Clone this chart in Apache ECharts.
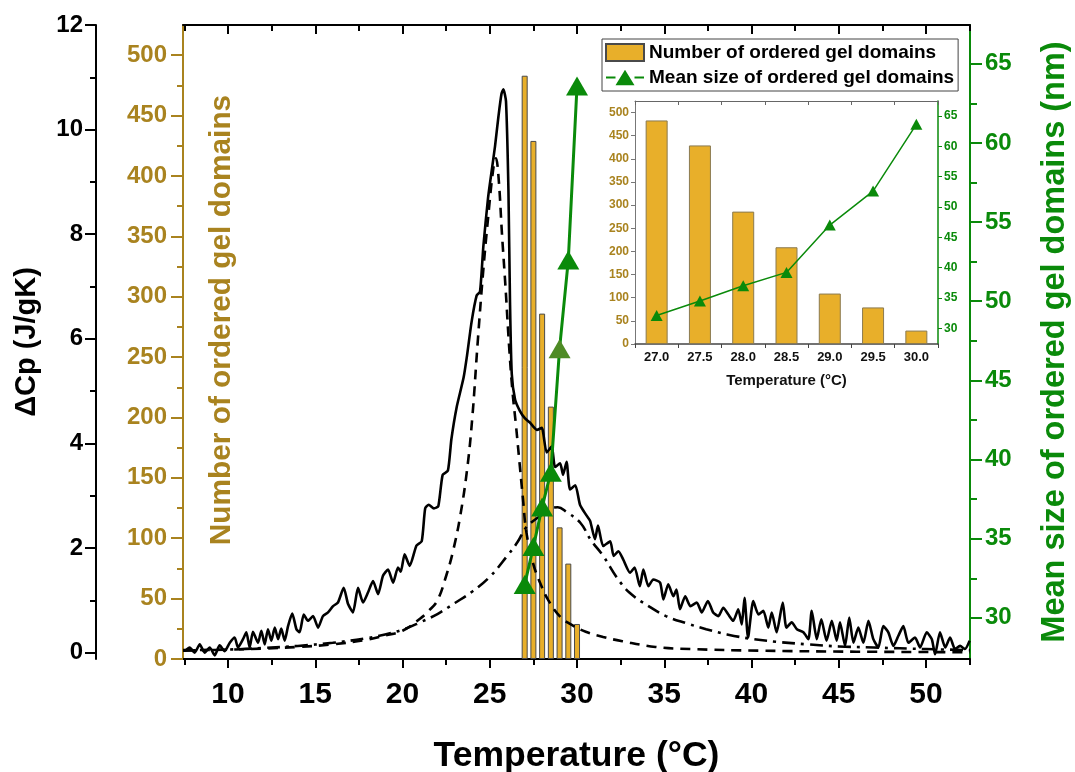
<!DOCTYPE html>
<html><head><meta charset="utf-8">
<script src="https://cdn.jsdelivr.net/npm/echarts@6.0.0/dist/echarts.min.js"></script>
<style>html,body{margin:0;padding:0;background:#fff}#c{width:1075px;height:772px}</style>
</head><body><div id="c"></div>
<script>
// ---- data ----
const temps = [27.0, 27.5, 28.0, 28.5, 29.0, 29.5, 30.0];
const tempLabels = ['27.0', '27.5', '28.0', '28.5', '29.0', '29.5', '30.0'];
const domainCount = [483, 429, 286, 209, 109, 79, 29];
const domainSize = [32.1, 34.5, 37.0, 39.2, 47.0, 52.6, 63.6];

const dscT = [7.52,7.8,8.09,8.38,8.66,8.95,9.24,9.52,9.81,10.1,10.38,10.57,10.86,11.05,11.24,11.43,11.72,11.91,12.1,12.29,12.48,12.68,12.87,13.05,13.25,13.44,13.68,13.92,14.1,14.34,14.58,14.87,15.16,15.44,15.73,16.02,16.3,16.63,16.88,17.16,17.45,17.74,18.02,18.31,18.6,18.88,19.17,19.46,19.74,19.9,20.12,20.41,20.8,21.1,21.3,21.5,21.8,22.05,22.3,22.6,22.8,23.1,23.5,23.7,23.96,24.25,24.44,24.63,24.9,25.1,25.3,25.5,25.67,25.78,25.93,26.07,26.16,26.26,26.45,26.73,27.02,27.3,27.7,27.98,28.26,28.55,28.74,29.03,29.2,29.4,29.6,29.9,30.17,30.55,30.75,31.03,31.2,31.5,31.9,32.1,32.37,32.65,33.04,33.3,33.6,33.8,34.09,34.37,34.76,34.95,35.23,35.52,35.7,35.9,36.2,36.5,36.86,37.15,37.5,37.8,38.1,38.38,38.67,38.95,39.24,39.44,39.6,39.8,40.1,40.4,40.68,40.96,41.16,41.44,41.79,42.0,42.3,42.6,42.97,43.26,43.45,43.74,44.0,44.3,44.6,44.88,45.07,45.36,45.6,45.84,46.12,46.41,46.7,46.98,47.27,47.55,47.84,48.13,48.41,48.7,48.99,49.37,49.66,50.04,50.33,50.52,50.8,51.1,51.38,51.66,51.95,52.23,52.5];
const dscV = [0.03,0.10,0.00,0.16,0.00,0.10,-0.05,0.14,0.03,0.19,0.29,0.10,0.26,0.39,0.10,0.40,0.19,0.42,0.16,0.45,0.23,0.48,0.26,0.46,0.23,0.51,0.75,0.45,0.39,0.73,0.61,0.70,0.48,0.70,0.77,0.89,0.96,1.24,0.93,0.77,1.24,0.96,1.15,1.37,1.12,1.47,1.59,1.34,1.63,1.55,1.88,1.66,2.05,2.13,2.76,2.83,2.76,2.80,3.40,3.48,4.08,4.69,5.26,5.69,6.33,6.83,6.90,7.76,8.69,9.19,9.68,10.26,10.68,10.77,10.54,8.83,6.69,5.33,4.84,4.62,4.48,4.40,4.26,4.30,3.83,3.94,3.55,3.62,3.40,3.65,3.12,3.20,2.83,2.62,2.52,2.17,2.43,2.04,2.13,1.85,1.94,1.78,1.53,1.63,1.27,1.59,1.27,1.40,1.34,1.02,1.31,1.08,1.21,0.83,1.08,0.89,0.96,0.77,0.99,0.77,0.70,0.86,0.73,0.61,0.83,0.54,1.05,0.29,0.99,0.73,0.80,0.48,0.77,0.39,0.96,0.48,0.58,0.45,0.39,0.26,0.80,0.26,0.64,0.23,0.61,0.23,0.58,0.13,0.67,0.19,0.48,0.19,0.61,0.26,0.10,0.51,0.39,0.13,0.32,0.51,0.19,0.29,0.10,0.39,0.26,-0.03,0.39,0.10,0.29,0.07,0.13,0.07,0.23];

const peak1T = [7.42,10,12,14,16,18,19,20,21,21.5,22,22.53,22.9,23.3,23.7,24.0,24.3,24.6,24.9,25.2,25.35,25.5,25.7,25.9,26.1,26.3,26.5,26.7,26.9,27.1,27.5,27.88,28.36,29.03,29.6,30.5,31.5,32.6,34.5,36.5,40.4,46,52.52];
const peak1V = [0.05,0.06,0.08,0.11,0.16,0.25,0.33,0.42,0.65,0.8,1.0,1.5,1.95,2.6,3.5,4.5,5.9,7.2,8.3,9.25,9.45,9.1,8.0,7.0,5.9,5.0,4.35,3.65,2.95,2.3,1.69,1.34,1.0,0.69,0.55,0.4,0.3,0.22,0.11,0.07,0.04,0.02,0.01];

const peak2T = [7.42,10,12,14,16,18,19,20,21,22,23,24,25,26,26.6,27.1,27.9,28.5,28.9,29.4,30.2,30.8,31.5,32.3,33.0,34.1,35.1,36.3,37.4,38.6,39.9,41.4,43.2,45,47,50,52.52];
const peak2V = [0.04,0.06,0.09,0.13,0.19,0.28,0.35,0.44,0.58,0.74,0.95,1.17,1.45,1.85,2.12,2.4,2.62,2.76,2.78,2.69,2.48,2.15,1.85,1.43,1.15,0.89,0.70,0.56,0.45,0.35,0.27,0.21,0.16,0.12,0.10,0.07,0.05];

const xMajorTicks = [10, 15, 20, 25, 30, 35, 40, 45, 50];
const xMinorTicks = [7.5, 12.5, 17.5, 22.5, 27.5, 32.5, 37.5, 42.5, 47.5, 52.5];
const cpTicks = [0, 2, 4, 6, 8, 10, 12];
const cpMinor = [1, 3, 5, 7, 9, 11];
const countTicks = [0, 50, 100, 150, 200, 250, 300, 350, 400, 450, 500];
const countMinor = [25, 75, 125, 175, 225, 275, 325, 375, 425, 475];
const sizeTicks = [30, 35, 40, 45, 50, 55, 60, 65];
const sizeMinor = [32.5, 37.5, 42.5, 47.5, 52.5, 57.5, 62.5];

// ---- style ----
const FF = '"Liberation Sans", Arial, sans-serif';
const GOLD = '#A9831F';
const BAR = '#E8AF2A';
const GREEN = '#0A8A0A';
const OLIVE = '#4E8B25';
const LEGEND_LINE_ICON = 'path://M0,8.2 H10 V10.2 H0 Z M30,8.2 H40 V10.2 H30 Z M10,17.5 L20,1 L30,17.5 Z';

const pairs = (a, b) => a.map((v, i) => [v, b[i]]);

const chart = echarts.init(document.getElementById('c'), null, {renderer: 'canvas'});

const noSplit = {show: false};
const xBase = {type: 'value', gridIndex: 0, min: 7.42, max: 52.52, splitLine: noSplit};
const yMainCp = {type: 'value', gridIndex: 0, min: -0.12, max: 12, splitLine: noSplit};
const yMainCount = {type: 'value', gridIndex: 0, min: 0, max: 525, splitLine: noSplit};
const yMainSize = {type: 'value', gridIndex: 0, min: 27.4, max: 67.45, splitLine: noSplit};

const option = {
  animation: false,
  backgroundColor: '#fff',
  textStyle: {fontFamily: FF},
  grid: [
    {left: 183, right: 105, top: 25, bottom: 113, containLabel: false, outerBoundsMode: 'none'},
    {left: 635, right: 137, top: 101, bottom: 428, containLabel: false, outerBoundsMode: 'none'}
  ],
  legend: {
    data: [
      {name: 'Number of ordered gel domains', icon: 'rect'},
      {name: 'Mean size of ordered gel domains', icon: LEGEND_LINE_ICON}
    ],
    orient: 'vertical', left: 602, top: 39,
    borderColor: '#444', borderWidth: 1, backgroundColor: '#fff',
    padding: [4, 4, 4, 3], itemGap: 6, itemWidth: 38, itemHeight: 17,
    textStyle: {fontFamily: FF, fontWeight: 'bold', fontSize: 19, color: '#000'}
  },
  xAxis: [
    Object.assign({}, xBase, {
      position: 'bottom',
      axisLine: {show: true, onZero: false, lineStyle: {color: '#000', width: 2}},
      axisTick: {show: true, length: 9, customValues: xMajorTicks, lineStyle: {color: '#000', width: 2}},
      axisLabel: {customValues: xMajorTicks, margin: 21, fontSize: 30, fontWeight: 'bold', color: '#000', fontFamily: FF},
      name: 'Temperature (°C)', nameLocation: 'middle', nameGap: 79,
      nameTextStyle: {fontSize: 35.5, fontWeight: 'bold', color: '#000', fontFamily: FF}
    }),
    Object.assign({}, xBase, {
      position: 'bottom',
      axisLine: {show: false, onZero: false},
      axisTick: {show: true, length: 6, customValues: xMinorTicks, lineStyle: {color: '#000', width: 2}},
      axisLabel: {show: false}
    }),
    Object.assign({}, xBase, {
      position: 'top',
      axisLine: {show: true, onZero: false, lineStyle: {color: '#000', width: 2}},
      axisTick: {show: true, inside: true, length: 9, customValues: xMajorTicks, lineStyle: {color: '#000', width: 2}},
      axisLabel: {show: false}
    }),
    Object.assign({}, xBase, {
      position: 'top',
      axisLine: {show: false, onZero: false},
      axisTick: {show: true, inside: true, length: 6, customValues: xMinorTicks, lineStyle: {color: '#000', width: 2}},
      axisLabel: {show: false}
    }),
    {
      type: 'category', gridIndex: 1, data: tempLabels, position: 'bottom',
      axisLine: {show: true, onZero: false, lineStyle: {color: '#444', width: 1.5}},
      axisTick: {show: true, length: 4, lineStyle: {color: '#444'}},
      axisLabel: {margin: 7, fontSize: 13, fontWeight: 'bold', color: '#111', fontFamily: FF},
      name: 'Temperature (°C)', nameLocation: 'middle', nameGap: 29,
      nameTextStyle: {fontSize: 15, fontWeight: 'bold', color: '#111', fontFamily: FF}
    },
    {
      type: 'category', gridIndex: 1, data: tempLabels, position: 'top',
      axisLine: {show: true, onZero: false, lineStyle: {color: '#666', width: 1}},
      axisTick: {show: true, inside: true, length: 4, lineStyle: {color: '#666'}},
      axisLabel: {show: false}
    }
  ],
  yAxis: [
    Object.assign({}, yMainCp, {
      position: 'left', offset: 87,
      axisLine: {show: true, onZero: false, lineStyle: {color: '#000', width: 2}},
      axisTick: {show: true, length: 11, customValues: cpTicks, lineStyle: {color: '#000', width: 2}},
      axisLabel: {customValues: cpTicks, margin: 13, fontSize: 24, fontWeight: 'bold', color: '#000', fontFamily: FF},
      name: 'ΔCp (J/gK)', nameLocation: 'middle', nameGap: 55,
      nameTextStyle: {fontSize: 29, fontWeight: 'bold', color: '#000', fontFamily: FF}
    }),
    Object.assign({}, yMainCount, {
      position: 'left', offset: 0,
      axisLine: {show: true, onZero: false, lineStyle: {color: GOLD, width: 2}},
      axisTick: {show: true, length: 12, customValues: countTicks, lineStyle: {color: GOLD, width: 2}},
      axisLabel: {customValues: countTicks, margin: 16, fontSize: 24, fontWeight: 'bold', color: GOLD, fontFamily: FF}
    }),
    Object.assign({}, yMainSize, {
      position: 'right', offset: 0,
      axisLine: {show: true, onZero: false, lineStyle: {color: GREEN, width: 2}},
      axisTick: {show: true, length: 12, customValues: sizeTicks, lineStyle: {color: GREEN, width: 2}},
      axisLabel: {customValues: sizeTicks, margin: 15, fontSize: 24, fontWeight: 'bold', color: GREEN, fontFamily: FF},
      name: 'Mean size of ordered gel domains (nm)', nameLocation: 'middle', nameGap: 69,
      nameTextStyle: {fontSize: 32.5, fontWeight: 'bold', color: GREEN, fontFamily: FF, padding: [0, 0, 0, 0]}
    }),
    Object.assign({}, yMainCp, {
      position: 'left', offset: 87,
      axisLine: {show: false, onZero: false},
      axisTick: {show: true, length: 6, customValues: cpMinor, lineStyle: {color: '#000', width: 2}},
      axisLabel: {show: false}
    }),
    Object.assign({}, yMainCount, {
      position: 'left', offset: 0,
      axisLine: {show: false, onZero: false},
      axisTick: {show: true, length: 6, customValues: countMinor, lineStyle: {color: GOLD, width: 2}},
      axisLabel: {show: false}
    }),
    Object.assign({}, yMainSize, {
      position: 'right', offset: 0,
      axisLine: {show: false, onZero: false},
      axisTick: {show: true, length: 7, customValues: sizeMinor, lineStyle: {color: GREEN, width: 2}},
      axisLabel: {show: false}
    }),
    {
      type: 'value', gridIndex: 1, min: 0, max: 525, position: 'left', splitLine: noSplit,
      axisLine: {show: true, onZero: false, lineStyle: {color: '#777', width: 1}},
      axisTick: {show: true, length: 4, customValues: countTicks, lineStyle: {color: '#777'}},
      axisLabel: {customValues: countTicks, margin: 6, fontSize: 12, fontWeight: 'bold', color: GOLD, fontFamily: FF}
    },
    {
      type: 'value', gridIndex: 1, min: 27.4, max: 67.45, position: 'right', splitLine: noSplit,
      axisLine: {show: true, onZero: false, lineStyle: {color: GREEN, width: 1.5}},
      axisTick: {show: true, length: 4, customValues: sizeTicks, lineStyle: {color: GREEN}},
      axisLabel: {customValues: sizeTicks, margin: 6, fontSize: 12, fontWeight: 'bold', color: GREEN, fontFamily: FF}
    }
  ],
  graphic: [{
    type: 'text', x: 222, y: 320, rotation: Math.PI / 2,
    style: {text: 'Number of ordered gel domains', fill: GOLD, font: 'bold 29.8px "Liberation Sans", Arial, sans-serif', align: 'center', verticalAlign: 'middle'}
  }],
  series: [
    {
      name: 'Number of ordered gel domains', type: 'bar', xAxisIndex: 0, yAxisIndex: 1,
      barWidth: 6, data: pairs(temps, domainCount),
      itemStyle: {color: BAR, borderColor: '#4a4a4a', borderWidth: 1}
    },
    {
      name: 'DSC', type: 'line', xAxisIndex: 0, yAxisIndex: 0, data: pairs(dscT, dscV),
      symbol: 'none', smooth: 0.2, lineStyle: {color: '#000', width: 2.6}
    },
    {
      name: 'Peak 1', type: 'line', xAxisIndex: 0, yAxisIndex: 0, data: pairs(peak1T, peak1V),
      symbol: 'none', smooth: 0.4, lineStyle: {color: '#000', width: 2.6, type: [10, 7]}
    },
    {
      name: 'Peak 2', type: 'line', xAxisIndex: 0, yAxisIndex: 0, data: pairs(peak2T, peak2V),
      symbol: 'none', smooth: 0.4, lineStyle: {color: '#000', width: 2.6, type: [13, 6, 3, 6]}
    },
    {
      name: 'Mean size of ordered gel domains', type: 'line', xAxisIndex: 0, yAxisIndex: 2,
      data: temps.map((t, i) => i === 4 ? {value: [t, domainSize[i]], itemStyle: {color: OLIVE}} : [t, domainSize[i]]),
      symbol: 'triangle', symbolSize: [22, 19],
      lineStyle: {color: GREEN, width: 3}, itemStyle: {color: GREEN}
    },
    {
      name: 'Number of ordered gel domains', type: 'bar', xAxisIndex: 4, yAxisIndex: 6,
      barWidth: 22, data: domainCount,
      itemStyle: {color: BAR, borderColor: '#8a7a50', borderWidth: 1}
    },
    {
      name: 'Mean size of ordered gel domains', type: 'line', xAxisIndex: 4, yAxisIndex: 7,
      data: domainSize, symbol: 'triangle', symbolSize: [12, 11],
      lineStyle: {color: GREEN, width: 1.5}, itemStyle: {color: GREEN}
    }
  ]
};
chart.setOption(option);
</script>
</body></html>
